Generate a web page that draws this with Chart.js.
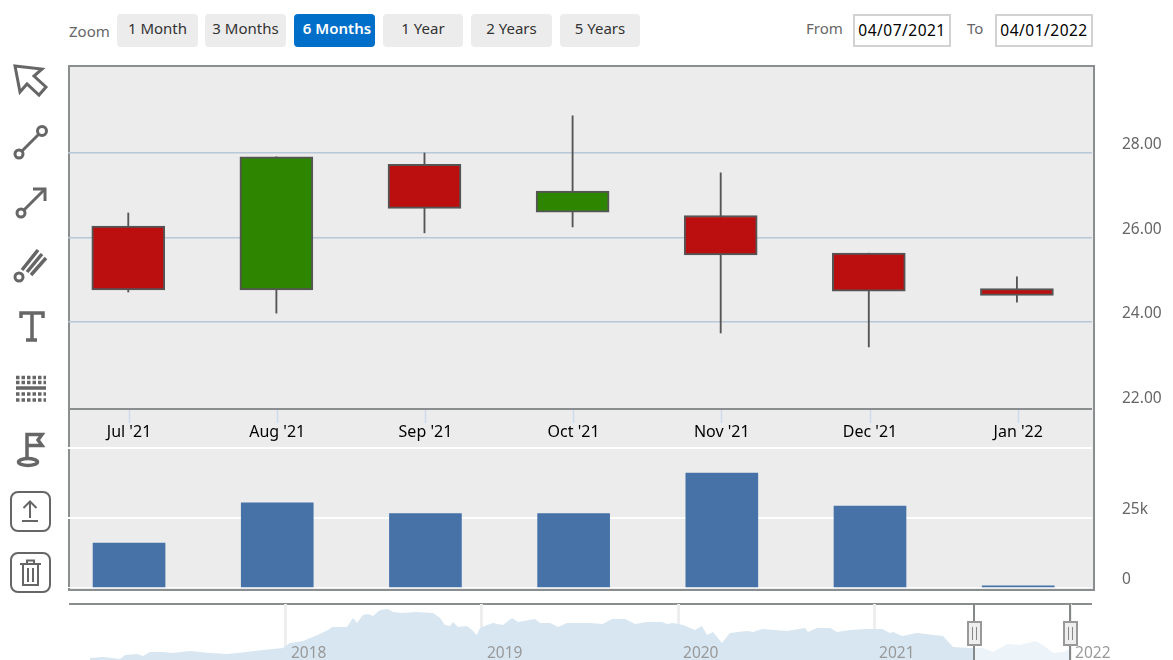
<!DOCTYPE html>
<html>
<head>
<meta charset="utf-8">
<script src="https://cdn.jsdelivr.net/npm/chart.js@4"></script>
<style>
html,body{margin:0;padding:0;background:#fff;overflow:hidden;width:1173px;height:660px;font-family:"Noto Sans",sans-serif}
.abs{position:absolute}
canvas.abs{display:block}
.btn{position:absolute;top:14px;height:33px;line-height:28px;text-align:center;background:#ececec;border-radius:4px;color:#333;font-size:15px;box-sizing:border-box}
.btn.on{background:#006fc9;color:#fff;font-weight:600;padding-left:5px}
.lbl{position:absolute;color:#666;font-size:15px;line-height:20px}
.inp{position:absolute;top:14px;height:33px;line-height:28px;width:98px;border:2px solid #d2d2d2;box-sizing:border-box;text-align:center;color:#000;font-size:15.5px;letter-spacing:.5px;background:#fff}
#panel{left:68px;top:65px;width:1023px;height:522px;background:#ececec;border:2px solid #8a8e8e;box-sizing:content-box;margin:0}
#sep{left:69px;top:408px;width:1023px;height:2px;background:#8a8e8e}
#navtop{left:69px;top:603px;width:1023px;height:2px;background:#8a8e8e}
</style>
</head>
<body>
<div class="lbl" style="left:69px;top:21px">Zoom</div>
<div class="btn" style="left:117px;width:81px">1 Month</div>
<div class="btn" style="left:205px;width:81px">3 Months</div>
<div class="btn on" style="left:294px;width:81px">6 Months</div>
<div class="btn" style="left:383px;width:80px">1 Year</div>
<div class="btn" style="left:471px;width:81px">2 Years</div>
<div class="btn" style="left:560px;width:80px">5 Years</div>
<div class="lbl" style="left:806px;top:18px">From</div>
<div class="inp" style="left:853px">04/07/2021</div>
<div class="lbl" style="left:967px;top:18px">To</div>
<div class="inp" style="left:995px">04/01/2022</div>

<svg class="abs" style="left:0;top:0" width="60" height="600" fill="none" stroke="#666" stroke-width="3">
  <path d="M15 66 L42 69 L34 76 L46 87 L39 95 L27 84 L20 92 Z"/>
  <line x1="22" y1="151" x2="39" y2="134"/><circle cx="42" cy="131" r="4.5"/><circle cx="19" cy="154" r="4"/>
  <line x1="24" y1="210" x2="44" y2="190"/><circle cx="21" cy="213" r="4"/><path d="M33 189 H45 V201"/>
  <circle cx="19" cy="277" r="4"/><g stroke-width="3.5"><line x1="22" y1="270" x2="38" y2="250"/><line x1="27" y1="272" x2="42" y2="254"/><line x1="31" y1="275" x2="46" y2="258"/></g>
  <path d="M21 318 V313 H43 V318 M32 313 V340 M26 340 H37" stroke-width="3.5"/>
  <path d="M16 388 H46" stroke-width="3.5"/>
  <path d="M16 377.5 H46 M16 382.5 H46 M16 394 H46 M16 400 H46" stroke-width="3.5" stroke-dasharray="3.5 2"/>
  <path d="M27 459 V434.5 H42 L38 440 L42 445.5 H27" stroke-width="3.5"/><ellipse cx="28" cy="462" rx="9.5" ry="3.5" stroke-width="3.5"/>
  <rect x="11" y="492" width="39" height="39" rx="7" stroke-width="2"/>
  <path d="M30 518 V502 M23.5 508 L30 501.5 L36.5 508 M22 521 H38" stroke-width="2"/>
  <rect x="11" y="553" width="39" height="39" rx="7" stroke-width="2"/>
  <path d="M20 564 H41 M27 564 V560.5 H34 V564 M23 564 V585 H38 V564 M28 568 V582 M33 568 V582" stroke-width="2"/>
</svg>

<div id="panel" class="abs"></div>
<div id="sep" class="abs"></div>
<div id="navtop" class="abs"></div>
<canvas id="price" class="abs" style="left:0;top:66px" width="1173" height="343"></canvas>
<canvas id="vol" class="abs" style="left:0;top:410px" width="1173" height="178"></canvas>
<canvas id="nav" class="abs" style="left:0;top:604px" width="1173" height="56"></canvas>

<script>
const categories = ["Jul '21","Aug '21","Sep '21","Oct '21","Nov '21","Dec '21","Jan '22"];
const openValues  = [26.27,24.76,27.73,26.60,26.52,25.63,24.79];
const closeValues = [24.76,27.91,26.69,27.10,25.59,24.73,24.63];
const highValues  = [26.58,27.91,28.00,28.88,27.53,25.63,25.07];
const lowValues   = [24.71,24.21,26.11,26.25,23.74,23.41,24.47];
const volumeValues = [16000,30400,26600,26600,41000,29300,800];
const priceTicks = [22,24,26,28];
const volumeTicks = [0,25000,50000];
const navTicks = [2018,2019,2020,2021,2022];
const navYears = [2017.000,2017.066,2017.153,2017.179,2017.240,2017.270,2017.306,2017.372,2017.423,2017.510,2017.612,2017.699,2017.801,2017.883,2017.985,2018.020,2018.087,2018.173,2018.214,2018.235,2018.311,2018.342,2018.362,2018.393,2018.418,2018.444,2018.480,2018.520,2018.546,2018.592,2018.668,2018.750,2018.786,2018.811,2018.837,2018.852,2018.878,2018.923,2018.949,2018.974,2018.990,2019.026,2019.056,2019.107,2019.153,2019.184,2019.270,2019.296,2019.347,2019.388,2019.434,2019.551,2019.617,2019.663,2019.730,2019.781,2019.842,2019.918,2019.944,2019.974,2020.026,2020.087,2020.122,2020.148,2020.179,2020.224,2020.265,2020.352,2020.383,2020.429,2020.556,2020.648,2020.663,2020.709,2020.776,2020.811,2020.878,2020.964,2021.041,2021.082,2021.097,2021.143,2021.219,2021.352,2021.403,2021.490,2021.510,2021.556,2021.607,2021.679,2021.745,2021.821,2021.862,2021.913,2021.964,2022.000];
const navValues = [21.1,21.5,20.7,22.3,22.7,21.9,23.5,23.5,23.1,23.9,23.1,22.7,23.5,24.3,25.1,27.1,27.9,30.7,32.3,33.5,33.5,37.1,35.1,38.3,38.7,37.9,40.3,40.7,39.5,39.1,39.5,39.1,37.1,34.3,33.9,35.5,33.5,33.9,32.3,30.3,33.1,34.3,35.1,34.3,37.1,35.5,36.7,35.1,35.1,33.5,35.1,35.1,34.7,36.7,36.7,34.7,35.5,35.5,34.7,35.1,34.3,32.3,33.9,30.3,31.5,27.1,31.1,31.9,31.5,32.7,31.9,33.1,31.5,33.1,33.1,31.5,32.3,32.7,32.7,31.1,31.5,29.9,31.1,29.9,25.5,25.1,25.1,25.1,23.5,26.7,26.3,27.9,26.3,23.1,23.5,24.7];
const rangeStart = 2021.510;
const rangeEnd = 2022.000;

const FONT = '"Noto Sans", sans-serif';
const RED = '#bb0f0f', GREEN = '#2e8500', EDGE = '#555555';
const indices = categories.map((_, i) => i);

const fixedRight = a => { a.width = 81; a.paddingTop = 0; a.paddingBottom = 0; };
function overlayX(a){ a.height = 0; a.paddingLeft = 0; a.paddingRight = 0; }

new Chart(document.getElementById('price'), {
  type: 'bar',
  data: {
    labels: indices,
    datasets: [
      {label:'Body', order:1, grouped:false, barThickness:73, borderWidth:2, borderColor:EDGE, borderSkipped:false,
       data: indices.map(i => ({x:i, y:[openValues[i], closeValues[i]]})),
       backgroundColor: indices.map(i => closeValues[i] >= openValues[i] ? GREEN : RED)},
      {label:'Wick', order:2, grouped:false, barThickness:1.2, borderWidth:0, backgroundColor:EDGE,
       data: indices.map(i => ({x:i, y:[lowValues[i], highValues[i]]}))}
    ]
  },
  options: {
    responsive:false, animation:false, devicePixelRatio:1,
    layout:{padding:{left:68,right:0,top:0,bottom:0}},
    plugins:{legend:{display:false},tooltip:{enabled:false}},
    scales:{
      x:{type:'linear',display:false,min:-0.407,max:6.507,offset:false},
      y:{position:'right',min:21.941,max:30.059,
         afterFit:fixedRight,
         afterBuildTicks:a=>{a.ticks=priceTicks.map(v=>({value:v}));},
         border:{display:false},
         grid:{color:c=>c.tick.value===22?'rgba(0,0,0,0)':'#b6c8d8',lineWidth:1.5,drawTicks:false},
         ticks:{padding:30,labelOffset:-8,color:'#666',font:{family:FONT,size:15.5},callback:v=>v.toFixed(2)}}
    }
  }
});

new Chart(document.getElementById('vol'), {
  type:'bar',
  data:{
    labels:indices,
    datasets:[{label:'Volume',barThickness:72,backgroundColor:'#4672a8',borderWidth:0,
      data:indices.map(i=>({x:i,y:volumeValues[i]}))}]
  },
  options:{
    responsive:false,animation:false,devicePixelRatio:1,
    layout:{padding:{left:68,right:0,top:0,bottom:0}},
    plugins:{legend:{display:false},tooltip:{enabled:false}},
    scales:{
      x:{type:'linear',position:'top',min:-0.412,max:6.498,offset:false,
         afterFit:overlayX,
         afterBuildTicks:a=>{a.ticks=indices.map(v=>({value:v}));},
         border:{display:false},
         grid:{offset:false,drawOnChartArea:false,drawTicks:true,tickLength:-13,tickColor:'#cfdcf0',tickWidth:1.5},
         ticks:{z:1,mirror:true,padding:13,autoSkip:false,maxRotation:0,color:'#000',font:{family:FONT,size:16},callback:v=>categories[v]}},
      y:{position:'right',min:0,max:63571,
         afterFit:fixedRight,
         afterBuildTicks:a=>{a.ticks=volumeTicks.map(v=>({value:v}));},
         border:{display:false},
         grid:{color:'#ffffff',lineWidth:2,drawTicks:false},
         ticks:{padding:30,labelOffset:-8,color:'#666',font:{family:FONT,size:15.5},
                callback:v=>v===0?'0':(v===25000?'25k':'')}}
    }
  }
});

const rangePlugin = {
  id:'rangeHandles',
  afterDraw(chart){
    const c=chart.ctx, s=chart.scales.x, area=chart.chartArea;
    [rangeStart,rangeEnd].forEach(v=>{
      const px=Math.round(s.getPixelForValue(v));
      c.save();
      c.strokeStyle='#858888';c.lineWidth=2;
      c.beginPath();c.moveTo(px,area.top);c.lineTo(px,area.bottom);c.stroke();
      c.fillStyle='#eeeeee';c.strokeStyle='#999999';
      c.fillRect(px-6,18,13,23);c.strokeRect(px-6,18,13,23);
      c.strokeStyle='#888888';c.lineWidth=1;
      c.beginPath();c.moveTo(px-1.5,23);c.lineTo(px-1.5,36);c.moveTo(px+2.5,23);c.lineTo(px+2.5,36);c.stroke();
      c.restore();
    });
  }
};

const navPoints = navYears.map((x,i)=>({x,y:navValues[i]}));
new Chart(document.getElementById('nav'),{
  type:'line',
  data:{datasets:[
    {label:'History',data:navPoints.filter(p=>p.x<=rangeStart),fill:'start',backgroundColor:'#d7e6f1',borderWidth:0,pointRadius:0,tension:0},
    {label:'Selected',data:navPoints.filter(p=>p.x>=rangeStart),fill:'start',backgroundColor:'#edf4f9',borderWidth:0,pointRadius:0,tension:0}
  ]},
  options:{
    responsive:false,animation:false,devicePixelRatio:1,
    layout:{padding:{left:68,right:81,top:0,bottom:0}},
    plugins:{legend:{display:false},tooltip:{enabled:false}},
    scales:{
      x:{type:'linear',position:'top',min:2016.888,max:2022.112,
         afterFit:overlayX,
         afterBuildTicks:a=>{a.ticks=navTicks.map(v=>({value:v}));},
         border:{display:false},
         grid:{color:'#eeeeee',lineWidth:3,drawTicks:false},
         ticks:{z:1,mirror:true,padding:40,align:'start',labelOffset:5,autoSkip:false,maxRotation:0,color:'#999',font:{family:FONT,size:15.5},callback:v=>String(v)}},
      y:{display:false,min:20.3,max:42.7}
    }
  },
  plugins:[rangePlugin]
});
</script>
</body>
</html>
